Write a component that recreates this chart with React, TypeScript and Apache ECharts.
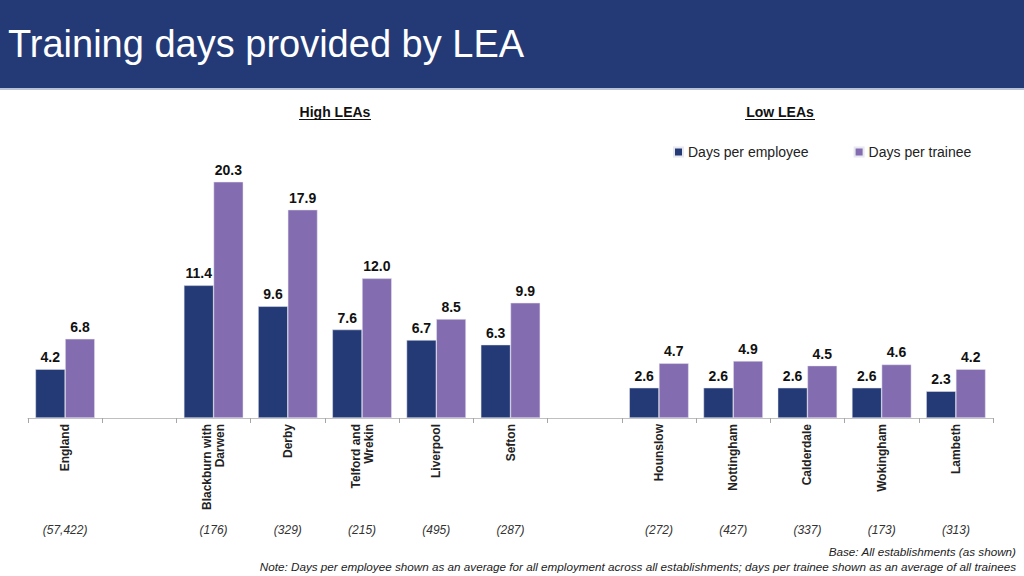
import React, { useEffect, useRef } from "react";
import * as echarts from "echarts";

const categories = [
  "England",
  "",
  "Blackburn with\nDarwen",
  "Derby",
  "Telford and\nWrekin",
  "Liverpool",
  "Sefton",
  "",
  "Hounslow",
  "Nottingham",
  "Calderdale",
  "Wokingham",
  "Lambeth",
];
const perEmployee = [4.2, null, 11.4, 9.6, 7.6, 6.7, 6.3, null, 2.6, 2.6, 2.6, 2.6, 2.3];
const perTrainee = [6.8, null, 20.3, 17.9, 12.0, 8.5, 9.9, null, 4.7, 4.9, 4.5, 4.6, 4.2];
const bases = ["(57,422)", "", "(176)", "(329)", "(215)", "(495)", "(287)", "", "(272)", "(427)", "(337)", "(173)", "(313)"];
const seriesNames = ["Days per employee", "Days per trainee"];
const titleText = "Training days provided by LEA";
const groupLabels = ["High LEAs", "Low LEAs"];
const baseNote = "Base: All establishments (as shown)";
const footNote =
  "Note: Days per employee shown as an average for all employment across all establishments; days per trainee shown as an average of all trainees";

const FONT = "'Liberation Sans', Arial, Helvetica, sans-serif";
const NAVY = "#243a76";
const PURPLE = "#836db0";

export default function App() {
  const ref = useRef<HTMLDivElement>(null);
  useEffect(() => {
    document.body.style.margin = "0";
    const chart = echarts.init(ref.current!, null, { renderer: "svg" });
    const label = {
      show: true,
      position: "top",
      distance: 5,
      fontFamily: FONT,
      fontSize: 14,
      fontWeight: "bold",
      color: "#111",
      formatter: (p: any) => (p.value == null ? "" : Number(p.value).toFixed(1)),
    };
    chart.setOption({
      animation: false,
      textStyle: { fontFamily: FONT },
      grid: { left: 28, right: 31, top: 162, bottom: 158, containLabel: false },
      legend: {
        data: seriesNames,
        left: 668,
        top: 140,
        itemWidth: 9,
        itemHeight: 9,
        itemGap: 45,
        icon: "rect",
        textStyle: { fontFamily: FONT, fontSize: 14, color: "#222" },
      },
      xAxis: [
        {
          type: "category",
          data: categories,
          position: "bottom",
          axisLine: { lineStyle: { color: "#bfbfbf", width: 1 } },
          axisTick: { show: true, length: 5, lineStyle: { color: "#a6a6a6" } },
          axisLabel: {
            interval: 0,
            rotate: 90,
            margin: 6,
            fontFamily: FONT,
            fontSize: 12,
            fontWeight: "bold",
            color: "#222",
            lineHeight: 13,
          },
        },
        {
          type: "category",
          data: bases,
          position: "bottom",
          offset: 106,
          axisLine: { show: false },
          axisTick: { show: false },
          axisLabel: {
            interval: 0,
            margin: 0,
            fontFamily: FONT,
            fontSize: 12,
            fontStyle: "italic",
            color: "#333",
          },
        },
      ],
      yAxis: {
        type: "value",
        min: 0,
        max: 22,
        show: false,
        splitLine: { show: false },
      },
      series: [
        {
          name: seriesNames[0],
          type: "bar",
          data: perEmployee,
          barGap: "0%",
          barCategoryGap: "20%",
          itemStyle: { color: NAVY, borderColor: "#e8e8f0", borderWidth: 0.5 },
          label,
        },
        {
          name: seriesNames[1],
          type: "bar",
          data: perTrainee,
          itemStyle: { color: PURPLE, borderColor: "#e8e8f0", borderWidth: 0.5 },
          label,
        },
      ],
      graphic: [
        { type: "rect", left: 0, top: 0, shape: { width: 1024, height: 88 }, style: { fill: NAVY }, z: 0 },
        { type: "rect", left: 0, top: 88, shape: { width: 1024, height: 2 }, style: { fill: "#b8c1d6" }, z: 0 },
        {
          type: "text",
          left: 8,
          top: 25,
          style: { text: titleText, fill: "#fff", font: `38px ${FONT}` },
        },
        {
          type: "text",
          x: 335,
          y: 112,
          style: { text: groupLabels[0], fill: "#111", font: `bold 14px ${FONT}`, align: "center", verticalAlign: "middle" },
        },
        { type: "line", shape: { x1: 299, y1: 119.5, x2: 371, y2: 119.5 }, style: { stroke: "#111", lineWidth: 1 } },
        {
          type: "text",
          x: 780,
          y: 112,
          style: { text: groupLabels[1], fill: "#111", font: `bold 14px ${FONT}`, align: "center", verticalAlign: "middle" },
        },
        { type: "line", shape: { x1: 745, y1: 119.5, x2: 815, y2: 119.5 }, style: { stroke: "#111", lineWidth: 1 } },
        {
          type: "text",
          x: 1016,
          y: 551,
          style: { text: baseNote, fill: "#222", font: `italic 11.7px ${FONT}`, align: "right", verticalAlign: "middle" },
        },
        {
          type: "text",
          x: 1016,
          y: 566,
          style: { text: footNote, fill: "#222", font: `italic 11.7px ${FONT}`, align: "right", verticalAlign: "middle" },
        },
      ],
    });
    return () => chart.dispose();
  }, []);
  return <div ref={ref} style={{ width: 1024, height: 576 }} />;
}
